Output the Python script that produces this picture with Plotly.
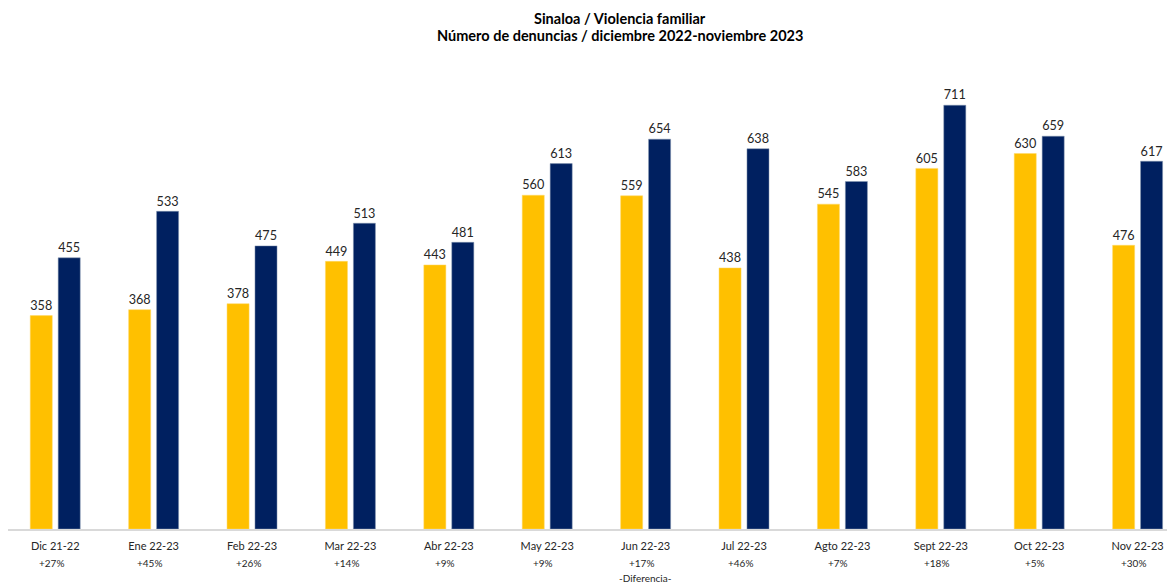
import plotly.graph_objects as go

categories = ["Dic 21-22", "Ene 22-23", "Feb 22-23", "Mar 22-23", "Abr 22-23", "May 22-23",
              "Jun 22-23", "Jul 22-23", "Agto 22-23", "Sept 22-23", "Oct 22-23", "Nov 22-23"]
prev_year = [358, 368, 378, 449, 443, 560, 559, 438, 545, 605, 630, 476]
curr_year = [455, 533, 475, 513, 481, 613, 654, 638, 583, 711, 659, 617]
diff_labels = ["+27%", "+45%", "+26%", "+14%", "+9%", "+9%", "+17%", "+46%", "+7%", "+18%", "+5%", "+30%"]
title_lines = ["Sinaloa / Violencia familiar", "Número de denuncias / diciembre 2022-noviembre 2023"]

FONT = "Lato"
x = list(range(len(categories)))

fig = go.Figure()
fig.add_trace(go.Bar(
    x=x, y=prev_year, width=0.224, offset=-0.254,
    marker=dict(color="#FFC000", line=dict(color="#FFD966", width=0.5)),
    text=prev_year, textposition="outside", cliponaxis=False,
    textfont=dict(family=FONT, size=14, color="#262626"),
    name="prev"))
fig.add_trace(go.Bar(
    x=x, y=curr_year, width=0.224, offset=0.03,
    marker=dict(color="#002060", line=dict(color="#8497B0", width=0.5)),
    text=curr_year, textposition="outside", cliponaxis=False,
    textfont=dict(family=FONT, size=14, color="#262626"),
    name="curr"))

for i, d in enumerate(diff_labels):
    fig.add_annotation(x=i - 0.04, y=0, xref="x", yref="paper", yshift=-34,
                       text=d, showarrow=False, yanchor="middle",
                       font=dict(family=FONT, size=10, color="#262626"))
fig.add_annotation(x=6, y=0, xref="x", yref="paper", yshift=-49,
                   text="-Diferencia-", showarrow=False, yanchor="middle",
                   font=dict(family=FONT, size=10, color="#262626"))

for line, ypos in zip(title_lines, [1.127, 1.089]):
    fig.add_annotation(x=0.524, y=ypos, xref="paper", yref="paper", xanchor="center", yanchor="middle",
                       text="<b>" + line + "</b>", showarrow=False, borderpad=0,
                       font=dict(family=FONT, size=14.5, color="#000000"))

fig.update_layout(
    width=1167, height=578, autosize=False,
    margin=dict(l=0, r=0, t=68, b=57),
    plot_bgcolor="white", paper_bgcolor="white",
    showlegend=False,
    xaxis=dict(tickmode="array", tickvals=x, ticktext=categories, range=[-0.48, 11.38],
               showgrid=False, zeroline=False, showline=True, linecolor="#D9D9D9", linewidth=2,
               ticks="", ticklabelstandoff=6,
               tickfont=dict(family=FONT, size=11, color="#262626")),
    yaxis=dict(range=[0, 760], visible=False, showgrid=False, zeroline=False),
)

fig.write_html("out.html")
